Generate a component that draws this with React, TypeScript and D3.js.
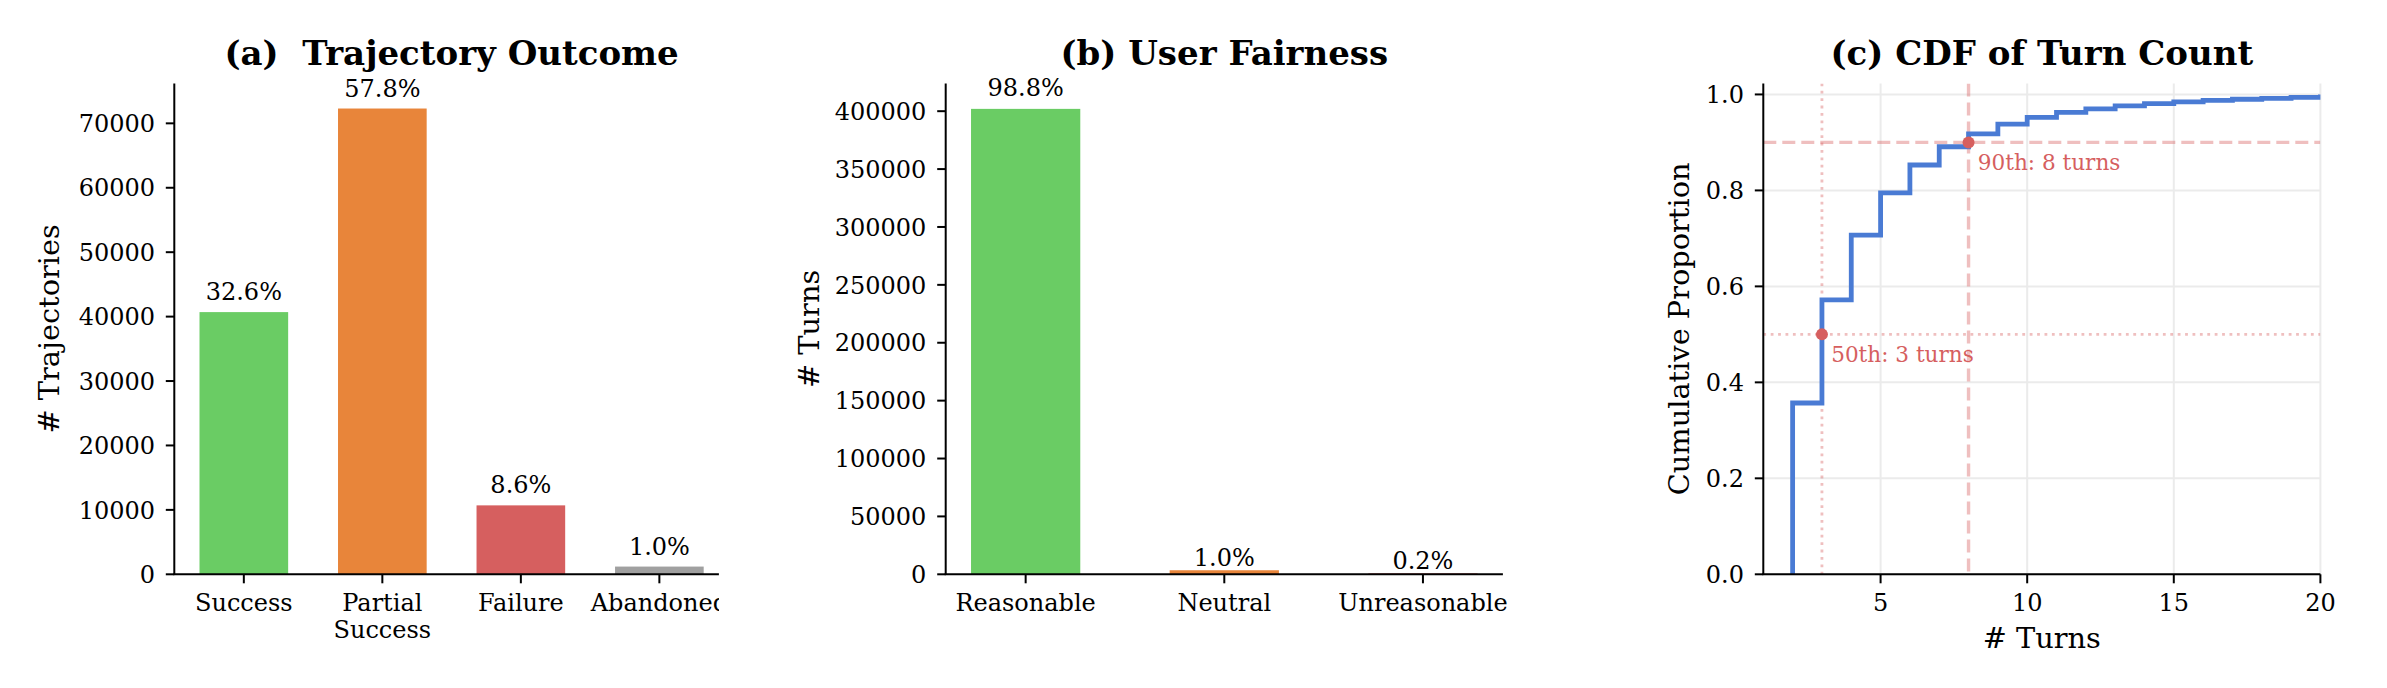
import { scaleLinear, line, curveStepAfter } from "d3"

const W = 2387, H = 688
const FONT = "'DejaVu Serif', 'Liberation Serif', serif"
const TOP = 83.4, BOTTOM = 574.3
const TITLE_Y = 65

// (a) trajectory outcome
const OUTCOME_CATS = ["Success", "Partial\nSuccess", "Failure", "Abandoned"]
const OUTCOME_COUNTS = [40700, 72300, 10700, 1200]
const OUTCOME_PCTS = ["32.6%", "57.8%", "8.6%", "1.0%"]
const OUTCOME_COLORS = ["#6acc64", "#e8853a", "#d65f5f", "#a0a0a0"]
const OUTCOME_TICKS = [0, 10000, 20000, 30000, 40000, 50000, 60000, 70000]

// (b) user fairness
const FAIR_CATS = ["Reasonable", "Neutral", "Unreasonable"]
const FAIR_COUNTS = [402000, 3500, 800]
const FAIR_PCTS = ["98.8%", "1.0%", "0.2%"]
const FAIR_COLORS = ["#6acc64", "#e8853a", "#d65f5f"]
const FAIR_TICKS = [0, 50000, 100000, 150000, 200000, 250000, 300000, 350000, 400000]

// (c) CDF of turn count
const TURNS = [2, 3, 4, 5, 6, 7, 8, 9, 10, 11, 12, 13, 14, 15, 16, 17, 18, 19, 20, 21]
const CDF = [0.357, 0.572, 0.707, 0.795, 0.853, 0.891, 0.918, 0.938, 0.952, 0.9625,
  0.970, 0.976, 0.981, 0.9846, 0.9875, 0.990, 0.992, 0.9937, 0.995, 0.996]
const TURN_TICKS = [5, 10, 15, 20]
const CDF_TICKS = [0, 0.2, 0.4, 0.6, 0.8, 1.0]
const PCTL_LABELS = ["50th: 3 turns", "90th: 8 turns"]
const PCTL_TURNS = [3, 8]
const PCTL_P = [0.5, 0.9]
const PCTL_DASH = ["2.8 4.6", "13 6"]

const RED = "#d65f5f"
const BLUE = "#4a7bd4"

interface BarProps {
  title: string
  ylabel: string
  ylabelX: number
  cats: string[]
  counts: number[]
  pcts: string[]
  colors: string[]
  ticks: number[]
  yMax: number
  left: number
  right: number
  barW: number
  clipRight?: number
  id: string
  labelGap: (v: number, max: number) => number
}

function BarPanel({ title, ylabel, ylabelX, cats, counts, pcts, colors, ticks, yMax, left, right, barW, clipRight, id, labelGap }: BarProps) {
  const n = cats.length
  const pad = 0.05 * (n - 1 + barW)
  const x = scaleLinear().domain([-barW / 2 - pad, n - 1 + barW / 2 + pad]).range([left, right])
  const y = scaleLinear().domain([0, yMax]).range([BOTTOM, TOP])
  const bw = x(barW) - x(0)
  const maxV = Math.max(...counts)
  const edge = clipRight ?? W
  const axRight = clipRight ?? right
  return (
    <g>
      <defs>
        <clipPath id={id}><rect x={0} y={0} width={edge} height={H} /></clipPath>
      </defs>
      <text x={(left + right) / 2} y={TITLE_Y} textAnchor="middle" fontSize={34} fontWeight="bold"
        style={{ whiteSpace: "pre" }}>{title}</text>
      <g clipPath={`url(#${id})`}>
        {counts.map((v, i) => (
          <rect key={i} x={x(i) - bw / 2} y={y(v)} width={bw} height={BOTTOM - y(v)} fill={colors[i]} />
        ))}
        {counts.map((v, i) => (
          <text key={i} x={x(i)} y={y(v) - labelGap(v, maxV)} textAnchor="middle" fontSize={24}>{pcts[i]}</text>
        ))}
        {/* spines */}
        <line x1={left} x2={left} y1={TOP} y2={BOTTOM} stroke="#000" strokeWidth={2} />
        <line x1={left - 1} x2={axRight} y1={BOTTOM} y2={BOTTOM} stroke="#000" strokeWidth={2} />
        {ticks.map(t => (
          <g key={t}>
            <line x1={left - 8.5} x2={left} y1={y(t)} y2={y(t)} stroke="#000" strokeWidth={2} />
            <text x={left - 19.3} y={y(t) + 8.7} textAnchor="end" fontSize={24}>{t}</text>
          </g>
        ))}
        {cats.map((c, i) => (
          <g key={c}>
            <line x1={x(i)} x2={x(i)} y1={BOTTOM} y2={BOTTOM + 9} stroke="#000" strokeWidth={2} />
            <text x={x(i)} y={610.7} textAnchor="middle" fontSize={24}>
              {c.split("\n").map((s, k) => (
                <tspan key={k} x={x(i)} dy={k === 0 ? 0 : 27.6}>{s}</tspan>
              ))}
            </text>
          </g>
        ))}
      </g>
      <text transform={`translate(${ylabelX},${(TOP + BOTTOM) / 2}) rotate(-90)`} textAnchor="middle" fontSize={28.8}>{ylabel}</text>
    </g>
  )
}

function CdfPanel() {
  const left = 1763.3, right = 2320.4
  const x = scaleLinear().domain([1, 20]).range([left, right])
  const y = scaleLinear().domain([0, 1.023]).range([BOTTOM, TOP])
  const pts: [number, number][] = [[TURNS[0], 0], ...TURNS.map((t, i) => [t, CDF[i]] as [number, number])]
  const path = line<[number, number]>().x(d => x(d[0])).y(d => y(d[1])).curve(curveStepAfter)(pts) ?? ""
  return (
    <g>
      <defs>
        <clipPath id="clipC"><rect x={left} y={TOP} width={right - left} height={BOTTOM - TOP} /></clipPath>
      </defs>
      <text x={(left + right) / 2} y={TITLE_Y} textAnchor="middle" fontSize={34} fontWeight="bold">(c) CDF of Turn Count</text>
      {/* grid */}
      {CDF_TICKS.map(t => (
        <line key={"gy" + t} x1={left} x2={right} y1={y(t)} y2={y(t)} stroke="#ebebeb" strokeWidth={2} />
      ))}
      {TURN_TICKS.map(t => (
        <line key={"gx" + t} x1={x(t)} x2={x(t)} y1={TOP} y2={BOTTOM} stroke="#ebebeb" strokeWidth={2} />
      ))}
      <g clipPath="url(#clipC)">
        {PCTL_TURNS.map((t, i) => (
          <g key={t} stroke={RED} strokeOpacity={0.4} strokeWidth={i === 0 ? 2.8 : 3.4} strokeDasharray={PCTL_DASH[i]}>
            <line x1={x(t)} x2={x(t)} y1={TOP} y2={BOTTOM} />
            <line x1={left} x2={right} y1={y(PCTL_P[i])} y2={y(PCTL_P[i])} />
          </g>
        ))}
        <path d={path} fill="none" stroke={BLUE} strokeWidth={4.8} />
      </g>
      {PCTL_TURNS.map((t, i) => (
        <g key={t}>
          <circle cx={x(t)} cy={y(PCTL_P[i])} r={6} fill={RED} />
          <text x={x(t) + 9.2} y={y(PCTL_P[i]) + 27.5} fontSize={21.6} fill={RED}>{PCTL_LABELS[i]}</text>
        </g>
      ))}
      {/* spines */}
      <line x1={left} x2={left} y1={TOP} y2={BOTTOM} stroke="#000" strokeWidth={2} />
      <line x1={left - 1} x2={right} y1={BOTTOM} y2={BOTTOM} stroke="#000" strokeWidth={2} />
      {CDF_TICKS.map(t => (
        <g key={t}>
          <line x1={left - 8.5} x2={left} y1={y(t)} y2={y(t)} stroke="#000" strokeWidth={2} />
          <text x={left - 19.3} y={y(t) + 8.7} textAnchor="end" fontSize={24}>{t.toFixed(1)}</text>
        </g>
      ))}
      {TURN_TICKS.map(t => (
        <g key={t}>
          <line x1={x(t)} x2={x(t)} y1={BOTTOM} y2={BOTTOM + 9} stroke="#000" strokeWidth={2} />
          <text x={x(t)} y={610.7} textAnchor="middle" fontSize={24}>{t}</text>
        </g>
      ))}
      <text x={(left + right) / 2} y={648.3} textAnchor="middle" fontSize={28.8}># Turns</text>
      <text transform={`translate(${1689.3},${(TOP + BOTTOM) / 2}) rotate(-90)`} textAnchor="middle" fontSize={28.8}>Cumulative Proportion</text>
    </g>
  )
}

export default function App() {
  return (
    <div style={{ position: "absolute", left: 0, top: 0 }}>
      <svg width={W} height={H} style={{ display: "block", background: "#fff" }} fontFamily={FONT}>
        <rect width={W} height={H} fill="#fff" />
        <BarPanel
          id="clipA"
          title={"(a)  Trajectory Outcome"}
          ylabel="# Trajectories"
          ylabelX={59.3}
          cats={OUTCOME_CATS}
          counts={OUTCOME_COUNTS}
          pcts={OUTCOME_PCTS}
          colors={OUTCOME_COLORS}
          ticks={OUTCOME_TICKS}
          yMax={76200}
          left={174.3}
          right={728.9}
          clipRight={718.9}
          barW={0.64}
          labelGap={() => 12}
        />
        <BarPanel
          id="clipB"
          title="(b) User Fairness"
          ylabel="# Turns"
          ylabelX={819.3}
          cats={FAIR_CATS}
          counts={FAIR_COUNTS}
          pcts={FAIR_PCTS}
          colors={FAIR_COLORS}
          ticks={FAIR_TICKS}
          yMax={424000}
          left={945.7}
          right={1502.9}
          barW={0.55}
          labelGap={(v, m) => 4 + 9 * v / m}
        />
        <CdfPanel />
      </svg>
    </div>
  )
}
